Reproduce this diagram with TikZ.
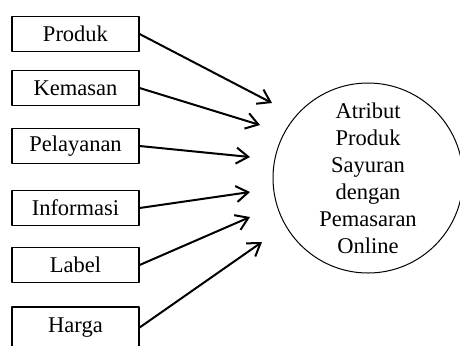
\documentclass[tikz,border=0pt]{standalone}
\usepackage{fontspec}
\setmainfont{Liberation Serif}
\usetikzlibrary{arrows.meta}
\begin{document}
\begin{tikzpicture}[x=0.5pt,y=-0.5pt,>={Straight Barb[length=6pt,width=8pt]}, font=\fontsize{11.25}{13.5}\selectfont, line join=round,
	kotak/.style={draw,line width=0.6pt,minimum width=63.5pt,minimum height=17.5pt,inner sep=0pt},
	bulat/.style={draw,circle,line width=0.5pt,minimum size=95pt,align=center,inner sep=0pt},
	panah/.style={->,line width=1pt}]
	\useasboundingbox (0,0) rectangle (460,345);
	% Kotak atribut
	\foreach \nama/\teks/\yy in {produk/Produk/34, kemasan/Kemasan/88, pelayanan/Pelayanan/146,
		informasi/Informasi/208, label/Label/265}
		\node[kotak] (\nama) at (75.5,\yy) {\teks};
	\node[kotak,minimum height=20.5pt] (harga) at (75.5,327.5) {Harga};
	\node[bulat] (atribut) at (368,178) {Atribut\\Produk\\Sayuran\\dengan\\Pemasaran\\Online};
	% Ujung panah
	\coordinate (u1) at (272,103);
	\coordinate (u2) at (260,125);
	\coordinate (u3) at (250,157);
	\coordinate (u4) at (250,192);
	\coordinate (u5) at (250,217);
	\coordinate (u6) at (262,242);
	\draw[panah] (produk.east)--(u1);
	\draw[panah] (kemasan.east)--(u2);
	\draw[panah] (pelayanan.east)--(u3);
	\draw[panah] (informasi.east)--(u4);
	\draw[panah] (label.east)--(u5);
	\draw[panah] (harga.east)--(u6);
\end{tikzpicture}
\end{document}
